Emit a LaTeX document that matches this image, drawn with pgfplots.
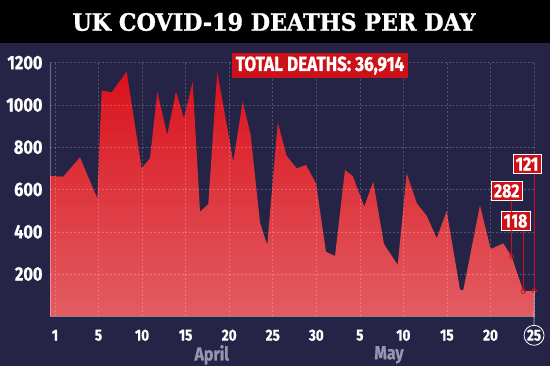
\documentclass[border=0pt]{standalone}
\usepackage{pgfplots}
\pgfplotsset{compat=1.18}
\usepackage{fontspec}
\setmainfont{Fira Sans}
\newfontfamily\cond{Fira Sans}[FakeStretch=0.84, BoldFeatures={FakeBold=0.8}]
\newfontfamily\titlefont{DejaVu Serif}[FakeStretch=0.93, BoldFeatures={FakeBold=1.2}]
\definecolor{navy}{RGB}{37,35,70}
\definecolor{redtop}{RGB}{218,18,28}
\definecolor{redbot}{RGB}{226,92,98}
\definecolor{boxred}{RGB}{204,18,24}
\definecolor{lav}{RGB}{152,148,178}
\begin{document}
\begin{tikzpicture}
\fill[navy] (0,0) rectangle (550bp,366bp);
\fill[black] (0,323bp) rectangle (550bp,366bp);
\node[text=white, font=\titlefont\bfseries\fontsize{24}{26}\selectfont] at (274bp,344bp) {UK COVID-19 DEATHS PER DAY};
\begin{axis}[at={(50bp,49.7bp)}, anchor=south west, scale only axis,
  width=484.3bp, height=253.6bp,
  xmin=-0.57, xmax=55.03, ymin=0, ymax=1200,
  axis x line*=bottom, axis y line*=left,
  axis line style={white, opacity=0.35, line width=0.6pt, -},
  xtick={0,5,...,55}, xticklabels={1,5,10,15,20,25,30,5,10,15,20,25},
  ytick={200,400,...,1200},
  major tick length=0pt,
  grid=major, grid style={white, opacity=0.22, dash pattern=on 2pt off 2pt, line width=0.5pt},
  xticklabel style={anchor=center, yshift=-19bp, text=white, font=\cond\bfseries\fontsize{16}{18}\selectfont},
  yticklabel style={anchor=east, xshift=-4bp, text=white, font=\cond\bfseries\fontsize{19.5}{21}\selectfont},
  /pgf/number format/assume math mode=true,
  /pgf/number format/1000 sep={},
  axis on top,
]
\addplot[draw=none, top color=redtop, bottom color=redbot] table {
x y
-0.57 664
0.95 661
2.87 752
4.86 558
5.36 1068
6.51 1060
8.23 1158
9.95 700
10.91 748
11.75 1063
12.89 858
13.89 1063
14.81 937
15.81 1110
16.65 495
17.60 531
18.63 1158
20.47 732
21.55 1016
22.47 858
23.54 442
24.37 338
25.58 917
26.60 759
27.75 700
28.82 716
29.97 629
31.11 306
32.15 285
33.29 692
34.18 664
35.51 519
36.54 637
37.77 342
39.35 243
40.38 677
41.53 536
42.68 475
43.83 369
44.97 498
46.50 126
46.88 124
48.79 525
50.02 318
51.47 345
52.43 282
53.77 118
55.03 121
} \closedcycle;
\addplot[only marks, mark=o, mark size=2.2bp, boxred, line width=0.8pt] coordinates {(52.43,282) (53.77,118) (55.03,121)};
\coordinate (p282) at (axis cs:52.43,282);
\coordinate (p118) at (axis cs:53.77,118);
\coordinate (p121) at (axis cs:55.03,121);
\coordinate (x55) at (axis cs:55,0);
\coordinate (apr) at (axis cs:18,0);
\coordinate (may) at (axis cs:38.35,0);
\end{axis}
\tikzset{lab/.style={fill=boxred, draw=white, line width=0.6pt, text=white, inner xsep=2.5pt, inner ysep=3pt, font=\cond\bfseries\fontsize{19}{21}\selectfont}}
\node[fill=boxred, text=white, minimum width=176bp, minimum height=25bp, inner sep=0pt, font=\cond\bfseries\fontsize{20.5}{22}\selectfont] at (320bp,300.5bp) {TOTAL DEATHS: 36,914};
\node[lab] (b282) at (506.7bp,175bp) {282};
\node[lab] (b118) at (515.5bp,145bp) {118};
\node[lab] (b121) at (527bp,202bp) {121};
\draw[boxred, line width=0.8pt] (p282 |- b282.south) -- (p282);
\draw[boxred, line width=0.8pt] (p118 |- b118.south) -- (p118);
\draw[boxred, line width=0.8pt] (p121 |- b121.south) -- (p121);
\draw[white, opacity=0.7, line width=0.8pt] (p121) -- ([yshift=-9bp]x55);
\draw[white, line width=0.8pt] ([yshift=-19bp]x55) circle (10bp);
\node[text=lav, font=\cond\bfseries\fontsize{19}{21}\selectfont] at ([yshift=-38.6bp]apr) {April};
\node[text=lav, font=\cond\bfseries\fontsize{19}{21}\selectfont] at ([yshift=-38.6bp]may) {May};
\end{tikzpicture}
\end{document}
